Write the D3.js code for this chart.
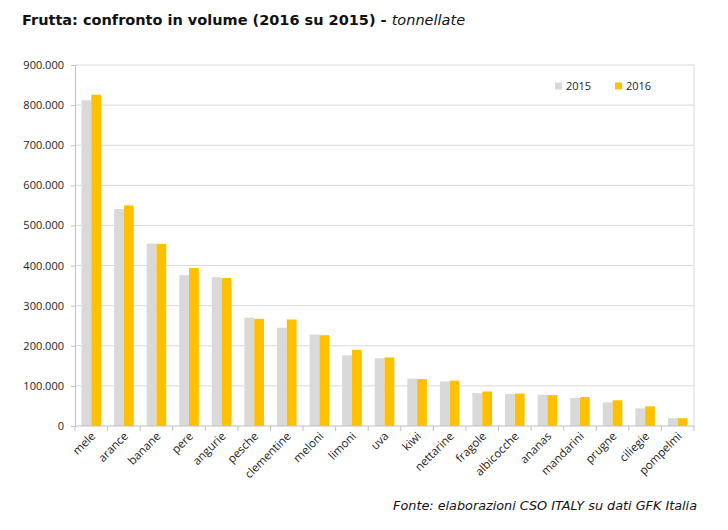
<!DOCTYPE html>
<html>
<head>
<meta charset="utf-8">
<script src="https://cdn.jsdelivr.net/npm/d3@7"></script>
<style>
  body { margin: 0; background: #fff; }
  svg text { font-family: "Open Sans", "Liberation Sans", sans-serif; }
</style>
</head>
<body>
<svg id="chart" width="728" height="530"></svg>
<script>
var categories = ['mele', 'arance', 'banane', 'pere', 'angurie', 'pesche', 'clementine', 'meloni', 'limoni', 'uva',
  'kiwi', 'nettarine', 'fragole', 'albicocche', 'ananas', 'mandarini', 'prugne', 'ciliegie', 'pompelmi'];
var values2015 = [812000, 541000, 455000, 376000, 371000, 270000, 245000, 228000, 176000, 169000,
  118000, 111000, 82000, 80000, 78000, 70000, 59000, 44000, 19500];
var values2016 = [826000, 550000, 454000, 394000, 369000, 267000, 265500, 226500, 190000, 171000,
  117000, 113000, 86000, 81000, 77000, 72000, 64000, 49000, 19500];
var seriesNames = ['2015', '2016'];
var yTicks = [0, 100000, 200000, 300000, 400000, 500000, 600000, 700000, 800000, 900000];

var colors = {'2015': '#d9d9d9', '2016': '#ffc000'};
var margin = {left: 75, right: 34, top: 65, bottom: 104};
var width = 728, height = 530;

var svg = d3.select('#chart');

var x = d3.scaleBand()
  .domain(categories)
  .range([margin.left, width - margin.right])
  .paddingInner(0.4)
  .paddingOuter(0.2);
var xs = d3.scaleBand()
  .domain(seriesNames)
  .range([0, x.bandwidth()]);
var y = d3.scaleLinear()
  .domain([0, 900000])
  .range([height - margin.bottom, margin.top]);

var fmt = function(v) { return v === 0 ? '0' : d3.format(',')(v).replace(/,/g, '.'); };

// gridlines
svg.append('g')
  .selectAll('line')
  .data(yTicks.slice(1))
  .enter().append('line')
  .attr('x1', margin.left).attr('x2', width - margin.right)
  .attr('y1', function(d) { return y(d); }).attr('y2', function(d) { return y(d); })
  .attr('stroke', '#d9d9d9').attr('stroke-width', 1);

// right border
svg.append('line')
  .attr('x1', width - margin.right).attr('x2', width - margin.right)
  .attr('y1', y(900000)).attr('y2', y(0))
  .attr('stroke', '#d9d9d9');

// bars
var data = categories.map(function(c, i) {
  return {cat: c, values: [{s: '2015', v: values2015[i]}, {s: '2016', v: values2016[i]}]};
});
var groups = svg.append('g').selectAll('g')
  .data(data)
  .enter().append('g')
  .attr('transform', function(d) { return 'translate(' + x(d.cat) + ',0)'; });
groups.selectAll('rect')
  .data(function(d) { return d.values; })
  .enter().append('rect')
  .attr('x', function(d) { return xs(d.s); })
  .attr('width', xs.bandwidth())
  .attr('y', function(d) { return y(d.v); })
  .attr('height', function(d) { return y(0) - y(d.v); })
  .attr('fill', function(d) { return colors[d.s]; });

// y axis
var yAxis = svg.append('g')
  .attr('transform', 'translate(' + margin.left + ',0)')
  .call(d3.axisLeft(y).tickValues(yTicks).tickFormat(fmt).tickSize(4).tickPadding(7));
yAxis.select('.domain').attr('stroke', '#bfbfbf');
yAxis.selectAll('.tick line').attr('stroke', '#bfbfbf');
yAxis.selectAll('.tick text').attr('font-size', 11).attr('fill', '#222');

// x axis
var step = x.step();
var xAxis = svg.append('g')
  .attr('transform', 'translate(0,' + y(0) + ')');
xAxis.append('line')
  .attr('x1', margin.left).attr('x2', width - margin.right)
  .attr('stroke', '#bfbfbf');
xAxis.selectAll('line.tk')
  .data(d3.range(categories.length + 1))
  .enter().append('line')
  .attr('class', 'tk')
  .attr('x1', function(i) { return margin.left + i * step; })
  .attr('x2', function(i) { return margin.left + i * step; })
  .attr('y1', 0).attr('y2', 5)
  .attr('stroke', '#bfbfbf');
xAxis.selectAll('text')
  .data(categories)
  .enter().append('text')
  .attr('transform', function(d) {
    return 'translate(' + (x(d) + x.bandwidth() / 2 + 2) + ',8) rotate(-45)';
  })
  .attr('text-anchor', 'end')
  .attr('dy', '0.35em')
  .attr('font-size', 11.5)
  .attr('fill', '#222')
  .text(function(d) { return d; });

// legend
var legend = svg.append('g').attr('transform', 'translate(555,86)');
var li = legend.selectAll('g')
  .data(seriesNames)
  .enter().append('g')
  .attr('transform', function(d, i) { return 'translate(' + (i * 60) + ',0)'; });
li.append('rect')
  .attr('x', 0).attr('y', -3.5)
  .attr('width', 7).attr('height', 7)
  .attr('fill', function(d) { return colors[d]; });
li.append('text')
  .attr('x', 11).attr('dy', '0.35em')
  .attr('font-size', 11).attr('fill', '#222')
  .text(function(d) { return d; });

// title
var title = svg.append('text')
  .attr('x', 22).attr('y', 25)
  .attr('font-size', 14.5)
  .style('font-family', '"DejaVu Sans", Verdana, sans-serif')
  .attr('fill', '#111');
title.append('tspan').attr('font-weight', 'bold').text('Frutta: confronto in volume (2016 su 2015) - ');
title.append('tspan').attr('font-style', 'italic').text('tonnellate');

// source
svg.append('text')
  .attr('x', 697).attr('y', 510)
  .attr('text-anchor', 'end')
  .attr('font-size', 12.8)
  .attr('font-style', 'italic')
  .style('font-family', '"DejaVu Sans", Verdana, sans-serif')
  .attr('fill', '#111')
  .text('Fonte: elaborazioni CSO ITALY su dati GFK Italia');
</script>
</body>
</html>
